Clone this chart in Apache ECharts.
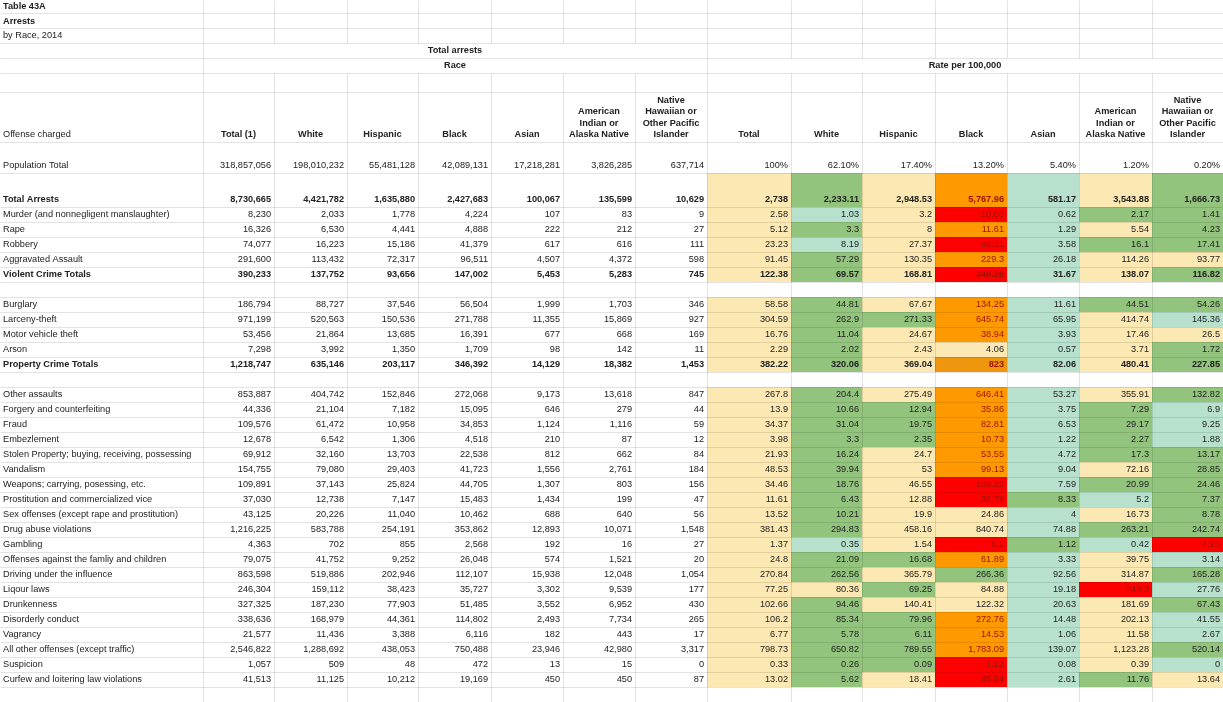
<!DOCTYPE html>
<html lang="en">
<head>
<meta charset="utf-8">
<title>Table 43A - Arrests by Race, 2014</title>
<script src="https://cdn.jsdelivr.net/npm/echarts@6/dist/echarts.min.js"></script>
<style>
  html, body { margin: 0; padding: 0; background: #fff; }
  #sheet { width: 1223px; height: 702px; }
</style>
</head>
<body>
<div id="sheet"></div>
<script type="text/javascript">
// ---- table data ----
var titleLines = ['Table 43A', 'Arrests', 'by Race, 2014'];
var groupTitles = ['Total arrests', 'Race', 'Rate per 100,000'];
var firstHeader = 'Offense charged';
var totalHeaders = ['Total (1)', 'Total'];
var raceHeaders = ['White', 'Hispanic', 'Black', 'Asian',
  'American\nIndian or\nAlaska Native', 'Native\nHawaiian or\nOther Pacific\nIslander'];

var populationLabel = 'Population Total';
var population = [318857056, 198010232, 55481128, 42089131, 17218281, 3826285, 637714];
var populationShare = [100, 62.1, 17.4, 13.2, 5.4, 1.2, 0.2];

var offenses = [
  'Total Arrests',
  'Murder (and nonnegligent manslaughter)', 'Rape', 'Robbery', 'Aggravated Assault', 'Violent Crime Totals',
  'Burglary', 'Larceny-theft', 'Motor vehicle theft', 'Arson', 'Property Crime Totals',
  'Other assaults', 'Forgery and counterfeiting', 'Fraud', 'Embezlement',
  'Stolen Property; buying, receiving, possessing', 'Vandalism', 'Weapons; carrying, posessing, etc.',
  'Prostitution and commercialized vice', 'Sex offenses (except rape and prostitution)',
  'Drug abuse violations', 'Gambling', 'Offenses against the famliy and children',
  'Driving under the influence', 'Liqour laws', 'Drunkenness', 'Disorderly conduct', 'Vagrancy',
  'All other offenses (except traffic)', 'Suspicion', 'Curfew and loitering law violations'
];
var totalRows = ['Total Arrests', 'Violent Crime Totals', 'Property Crime Totals'];
var sectionEnds = ['Violent Crime Totals', 'Property Crime Totals'];

// total, white, hispanic, black, asian, am. indian, nat. hawaiian
var arrests = [
  [8730665, 4421782, 1635880, 2427683, 100067, 135599, 10629],
  [8230, 2033, 1778, 4224, 107, 83, 9],
  [16326, 6530, 4441, 4888, 222, 212, 27],
  [74077, 16223, 15186, 41379, 617, 616, 111],
  [291600, 113432, 72317, 96511, 4507, 4372, 598],
  [390233, 137752, 93656, 147002, 5453, 5283, 745],
  [186794, 88727, 37546, 56504, 1999, 1703, 346],
  [971199, 520563, 150536, 271788, 11355, 15869, 927],
  [53456, 21864, 13685, 16391, 677, 668, 169],
  [7298, 3992, 1350, 1709, 98, 142, 11],
  [1218747, 635146, 203117, 346392, 14129, 18382, 1453],
  [853887, 404742, 152846, 272068, 9173, 13618, 847],
  [44336, 21104, 7182, 15095, 646, 279, 44],
  [109576, 61472, 10958, 34853, 1124, 1116, 59],
  [12678, 6542, 1306, 4518, 210, 87, 12],
  [69912, 32160, 13703, 22538, 812, 662, 84],
  [154755, 79080, 29403, 41723, 1556, 2761, 184],
  [109891, 37143, 25824, 44705, 1307, 803, 156],
  [37030, 12738, 7147, 15483, 1434, 199, 47],
  [43125, 20226, 11040, 10462, 688, 640, 56],
  [1216225, 583788, 254191, 353862, 12893, 10071, 1548],
  [4363, 702, 855, 2568, 192, 16, 27],
  [79075, 41752, 9252, 26048, 574, 1521, 20],
  [863598, 519886, 202946, 112107, 15938, 12048, 1054],
  [246304, 159112, 38423, 35727, 3302, 9539, 177],
  [327325, 187230, 77903, 51485, 3552, 6952, 430],
  [338636, 168979, 44361, 114802, 2493, 7734, 265],
  [21577, 11436, 3388, 6116, 182, 443, 17],
  [2546822, 1288692, 438053, 750488, 23946, 42980, 3317],
  [1057, 509, 48, 472, 13, 15, 0],
  [41513, 11125, 10212, 19169, 450, 450, 87]
];

var rates = [
  [2738, 2233.11, 2948.53, 5767.96, 581.17, 3543.88, 1666.73],
  [2.58, 1.03, 3.2, 10.03, 0.62, 2.17, 1.41],
  [5.12, 3.3, 8, 11.61, 1.29, 5.54, 4.23],
  [23.23, 8.19, 27.37, 98.31, 3.58, 16.1, 17.41],
  [91.45, 57.29, 130.35, 229.3, 26.18, 114.26, 93.77],
  [122.38, 69.57, 168.81, 349.26, 31.67, 138.07, 116.82],
  [58.58, 44.81, 67.67, 134.25, 11.61, 44.51, 54.26],
  [304.59, 262.9, 271.33, 645.74, 65.95, 414.74, 145.36],
  [16.76, 11.04, 24.67, 38.94, 3.93, 17.46, 26.5],
  [2.29, 2.02, 2.43, 4.06, 0.57, 3.71, 1.72],
  [382.22, 320.06, 369.04, 823, 82.06, 480.41, 227.85],
  [267.8, 204.4, 275.49, 646.41, 53.27, 355.91, 132.82],
  [13.9, 10.66, 12.94, 35.86, 3.75, 7.29, 6.9],
  [34.37, 31.04, 19.75, 82.81, 6.53, 29.17, 9.25],
  [3.98, 3.3, 2.35, 10.73, 1.22, 2.27, 1.88],
  [21.93, 16.24, 24.7, 53.55, 4.72, 17.3, 13.17],
  [48.53, 39.94, 53, 99.13, 9.04, 72.16, 28.85],
  [34.46, 18.76, 46.55, 106.22, 7.59, 20.99, 24.46],
  [11.61, 6.43, 12.88, 36.79, 8.33, 5.2, 7.37],
  [13.52, 10.21, 19.9, 24.86, 4, 16.73, 8.78],
  [381.43, 294.83, 458.16, 840.74, 74.88, 263.21, 242.74],
  [1.37, 0.35, 1.54, 6.1, 1.12, 0.42, 4.23],
  [24.8, 21.09, 16.68, 61.89, 3.33, 39.75, 3.14],
  [270.84, 262.56, 365.79, 266.36, 92.56, 314.87, 165.28],
  [77.25, 80.36, 69.25, 84.88, 19.18, 249.3, 27.76],
  [102.66, 94.46, 140.41, 122.32, 20.63, 181.69, 67.43],
  [106.2, 85.34, 79.96, 272.76, 14.48, 202.13, 41.55],
  [6.77, 5.78, 6.11, 14.53, 1.06, 11.58, 2.67],
  [798.73, 650.82, 789.55, 1783.09, 139.07, 1123.28, 520.14],
  [0.33, 0.26, 0.09, 1.12, 0.08, 0.39, 0],
  [13.02, 5.62, 18.41, 45.54, 2.61, 11.76, 13.64]
];

// rate band per cell vs. the total rate
// T well below, G below, Y about / above, O high, R very high, D marked
var rateBands = [
  'YGYOTYG',
  'YTYRTGG', 'YGYOTYG', 'YTYRTGG', 'YGYOTYY', 'YGYRTYG',
  'YGYOTGG', 'YGGOTYT', 'YGYOTYY', 'YGYYTYG', 'YGYDTYG',
  'YGYOTYG', 'YGGOTGT', 'YGGOTGT', 'YGGOTGT', 'YGYOTGG', 'YGYOTYG',
  'YGYRTGG', 'YGYRGTG', 'YGYYTYG', 'YGYYTGG', 'YTYRGTR', 'YGGOTYT',
  'YGYGTYG', 'YYGYTRT', 'YGYYTYG', 'YGGOTYT', 'YGGOTYT', 'YGGOTYG',
  'YGGRTYT', 'YGYRTGY'
];
var bandCodes = 'TGYORD';

// ---- sheet layout ----
var colWidths = [203, 71, 73, 71, 73, 72, 72, 72, 84, 71, 73, 72, 72, 73, 71];
var sheetHeight = 702;
var textPad = 3;
var bandColors = ['#b7e1cd', '#93c47d', '#fce8b2', '#ff9900', '#ff0000', '#ef960f'];
var textColor = '#222222';
var hotTextColor = '#9a1200';

var colEdges = [0];
colWidths.forEach(function (w) { colEdges.push(colEdges[colEdges.length - 1] + w); });
var sheetWidth = colEdges[colEdges.length - 1];

var rows = [];
titleLines.forEach(function (t, i) {
  rows.push({ kind: 'title', text: t, bold: i < 2, h: [13.5, 15, 14.5][i] });
});
rows.push({ kind: 'group1', h: 15 });
rows.push({ kind: 'group2', h: 15 });
rows.push({ kind: 'blank', h: 19 });
rows.push({ kind: 'header', h: 50 });
rows.push({ kind: 'pop', h: 31 });
offenses.forEach(function (name, i) {
  rows.push({ kind: 'offense', idx: i, h: i === 0 ? 34 : 15 });
  if (sectionEnds.indexOf(name) >= 0) rows.push({ kind: 'blank', h: 15 });
});
var usedH = rows.reduce(function (s, r) { return s + r.h; }, 0);
rows.push({ kind: 'blank', h: sheetHeight - usedH });

var rowEdges = [0];
rows.forEach(function (r) { rowEdges.push(rowEdges[rowEdges.length - 1] + r.h); });

function fmt(v) { return v.toLocaleString('en-US', { maximumFractionDigits: 2 }); }
function fmtShare(v) { return Number.isInteger(v) ? v + '%' : v.toFixed(2) + '%'; }

// ---- build cells ----
var fills = [], texts = [], merges = [];
function addText(c0, c1, r, text, align, bold, color) {
  texts.push({ c0: c0, c1: c1, r: r, text: text, align: align, bold: !!bold, color: color || textColor });
}

rows.forEach(function (row, r) {
  if (row.kind === 'title') {
    addText(0, 0, r, row.text, 'left', row.bold);
  } else if (row.kind === 'group1') {
    addText(1, 7, r, groupTitles[0], 'center', true);
    merges.push({ r: r, c0: 1, c1: 7 });
  } else if (row.kind === 'group2') {
    addText(1, 7, r, groupTitles[1], 'center', true);
    addText(8, 14, r, groupTitles[2], 'center', true);
    merges.push({ r: r, c0: 1, c1: 7 }, { r: r, c0: 8, c1: 14 });
  } else if (row.kind === 'header') {
    addText(0, 0, r, firstHeader, 'left', false);
    addText(1, 1, r, totalHeaders[0], 'center', true);
    addText(8, 8, r, totalHeaders[1], 'center', true);
    raceHeaders.forEach(function (h, j) {
      addText(2 + j, 2 + j, r, h, 'center', true);
      addText(9 + j, 9 + j, r, h, 'center', true);
    });
  } else if (row.kind === 'pop') {
    addText(0, 0, r, populationLabel, 'left', false);
    population.forEach(function (v, j) { addText(1 + j, 1 + j, r, fmt(v), 'right', false); });
    populationShare.forEach(function (v, j) { addText(8 + j, 8 + j, r, fmtShare(v), 'right', false); });
  } else if (row.kind === 'offense') {
    var i = row.idx;
    var bold = totalRows.indexOf(offenses[i]) >= 0;
    addText(0, 0, r, offenses[i], 'left', bold);
    arrests[i].forEach(function (v, j) { addText(1 + j, 1 + j, r, fmt(v), 'right', bold); });
    rates[i].forEach(function (v, j) {
      var band = bandCodes.indexOf(rateBands[i].charAt(j));
      fills.push([8 + j, r, band]);
      addText(8 + j, 8 + j, r, fmt(v), 'right', bold, band >= 3 ? hotTextColor : textColor);
    });
  }
});

// grid lines: horizontal at every row edge, vertical at column edges outside merges
var lines = [];
for (var r = 1; r < rowEdges.length - 1; r++) {
  lines.push([0, rowEdges[r], sheetWidth, rowEdges[r]]);
}
rows.forEach(function (row, r) {
  for (var e = 1; e < colEdges.length - 1; e++) {
    var inside = merges.some(function (m) { return m.r === r && e > m.c0 && e <= m.c1; });
    if (!inside) lines.push([colEdges[e], rowEdges[r], colEdges[e], rowEdges[r + 1]]);
  }
});

var chart = echarts.init(document.getElementById('sheet'));

var option = {
  animation: false,
  backgroundColor: '#ffffff',
  grid: { left: 0, right: 0, top: 0, bottom: 0 },
  xAxis: { type: 'value', min: 0, max: sheetWidth, show: false },
  yAxis: { type: 'value', min: 0, max: sheetHeight, inverse: true, show: false },
  visualMap: {
    show: false,
    type: 'piecewise',
    seriesIndex: 0,
    dimension: 2,
    pieces: bandColors.map(function (c, k) { return { value: k, color: c }; })
  },
  series: [
    {
      name: 'rate bands',
      type: 'custom',
      clip: false,
      silent: true,
      data: fills,
      renderItem: function (params, api) {
        var c = api.value(0), r = api.value(1);
        var p0 = api.coord([colEdges[c], rowEdges[r]]);
        var p1 = api.coord([colEdges[c + 1], rowEdges[r + 1]]);
        var x0 = Math.round(p0[0]), y0 = Math.round(p0[1]);
        return {
          type: 'rect',
          shape: { x: x0, y: y0, width: Math.round(p1[0]) - x0, height: Math.round(p1[1]) - y0 },
          style: { fill: api.visual('color') }
        };
      }
    },
    {
      name: 'grid lines',
      type: 'custom',
      clip: false,
      silent: true,
      data: lines,
      renderItem: function (params, api) {
        var a = api.coord([api.value(0), api.value(1)]);
        var b = api.coord([api.value(2), api.value(3)]);
        return {
          type: 'line',
          shape: {
            x1: Math.floor(a[0]) + 0.5, y1: Math.floor(a[1]) + 0.5,
            x2: Math.floor(b[0]) + 0.5, y2: Math.floor(b[1]) + 0.5
          },
          style: { stroke: 'rgba(0,0,0,0.11)', lineWidth: 1 }
        };
      }
    },
    {
      name: 'cell text',
      type: 'custom',
      clip: false,
      silent: true,
      data: texts.map(function (t, k) { return [t.c0, t.r, k]; }),
      renderItem: function (params, api) {
        var t = texts[api.value(2)];
        var p0 = api.coord([colEdges[t.c0], rowEdges[t.r]]);
        var p1 = api.coord([colEdges[t.c1 + 1], rowEdges[t.r + 1]]);
        var x = t.align === 'left' ? p0[0] + textPad
          : t.align === 'right' ? p1[0] - textPad
          : (p0[0] + p1[0]) / 2;
        return {
          type: 'text',
          style: {
            text: t.text,
            x: x,
            y: p1[1] - 1.5,
            align: t.align,
            verticalAlign: 'bottom',
            fontFamily: '"Liberation Sans", Arial, sans-serif',
            fontSize: 9.2,
            fontWeight: t.bold ? 'bold' : 'normal',
            lineHeight: 11.5,
            fill: t.color
          }
        };
      }
    }
  ]
};

chart.setOption(option);
</script>
</body>
</html>
